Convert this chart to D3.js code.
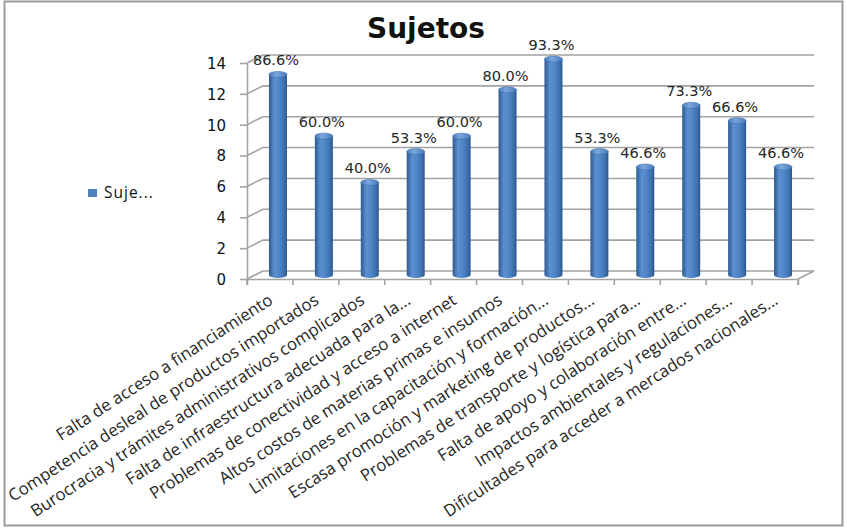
<!DOCTYPE html>
<html>
<head>
<meta charset="utf-8">
<script src="https://cdn.jsdelivr.net/npm/d3@7"></script>
<style>
  html, body { margin: 0; padding: 0; background: #fff; }
  svg { display: block; }
</style>
</head>
<body>
<svg id="chart" width="847" height="528"></svg>
<script>
const title = "Sujetos";
const seriesName = "Suje...";
const categories = [
  "Falta de acceso a financiamiento",
  "Competencia desleal de productos importados",
  "Burocracia y trámites administrativos complicados",
  "Falta de infraestructura adecuada para la...",
  "Problemas de conectividad y acceso a internet",
  "Altos costos de materias primas e insumos",
  "Limitaciones en la capacitación y formación...",
  "Escasa promoción y marketing de productos...",
  "Problemas de transporte y logística para...",
  "Falta de apoyo y colaboración entre...",
  "Impactos ambientales y regulaciones...",
  "Dificultades para acceder a mercados nacionales..."
];
const values = [13, 9, 6, 8, 9, 12, 14, 8, 7, 11, 10, 7];
const dataLabels = ["86.6%", "60.0%", "40.0%", "53.3%", "60.0%", "80.0%", "93.3%", "53.3%", "46.6%", "73.3%", "66.6%", "46.6%"];
const yTicks = [0, 2, 4, 6, 8, 10, 12, 14];

const svg = d3.select("#chart");

// frame
svg.append("rect").attr("x", 4.5).attr("y", 1.5).attr("width", 838).attr("height", 524)
  .attr("fill", "#fff").attr("stroke", "#9b9b9b").attr("stroke-width", 2);

// scales (front plane)
const x = d3.scaleBand().domain(categories).range([247, 798]).paddingInner(0).paddingOuter(0);
const y = d3.scaleLinear().domain([0, 14]).range([279, 63]);
const DX = 16, DY = -8;         // depth of the 3D box
const MX = DX / 2, MY = DY / 2; // bars sit at mid depth

const grid = svg.append("g");
yTicks.forEach(v => {
  const yy = y(v);
  grid.append("path")
    .attr("d", `M${x.range()[0]},${yy} L${x.range()[0] + DX},${yy + DY} L${x.range()[1] + DX},${yy + DY}`)
    .attr("fill", "none").attr("stroke", "#a3a3a3").attr("stroke-width", 1.6);
});
grid.append("path")
  .attr("d", `M${x.range()[1]},${y(0)} L${x.range()[1] + DX},${y(0) + DY}`)
  .attr("fill", "none").attr("stroke", "#a3a3a3").attr("stroke-width", 1.6);

// y axis
const yAxis = d3.axisLeft(y).tickValues(yTicks).tickSize(7).tickSizeOuter(0).tickPadding(14);
const gy = svg.append("g").attr("transform", `translate(${x.range()[0]},0)`).call(yAxis);
gy.select(".domain").attr("stroke", "#a3a3a3").attr("stroke-width", 1.6);
gy.selectAll(".tick line").attr("stroke", "#a3a3a3").attr("stroke-width", 1.6);
gy.selectAll(".tick text").attr("font-family", "DejaVu Sans").attr("font-size", 15)
  .attr("fill", "#111").attr("dy", "0.36em");

// x axis
const xAxis = d3.axisBottom(x).tickSize(6).tickSizeOuter(6).tickFormat("");
const gx = svg.append("g").attr("transform", `translate(0,${y(0)})`).call(xAxis);
gx.select(".domain").attr("stroke", "#a3a3a3").attr("stroke-width", 1.6);
gx.selectAll(".tick line").attr("stroke", "#a3a3a3").attr("stroke-width", 1.6)
  .attr("transform", `translate(${-x.bandwidth() / 2},0)`);
gx.append("line").attr("x1", x.range()[1]).attr("x2", x.range()[1]).attr("y1", 0).attr("y2", 6)
  .attr("stroke", "#a3a3a3").attr("stroke-width", 1.6);

// gradients
const defs = svg.append("defs");
const g1 = defs.append("linearGradient").attr("id", "cyl").attr("x1", 0).attr("x2", 1).attr("y1", 0).attr("y2", 0);
[[0, "#2d5a8f"], [0.3, "#5b8fd0"], [0.55, "#5087c8"], [0.85, "#3d6fae"], [1, "#2a5588"]]
  .forEach(([o, c]) => g1.append("stop").attr("offset", o).attr("stop-color", c));
const g2 = defs.append("linearGradient").attr("id", "cap").attr("x1", 0).attr("x2", 1).attr("y1", 0).attr("y2", 0);
[[0, "#4a7cbc"], [0.4, "#7aa6dc"], [1, "#4a7cbc"]]
  .forEach(([o, c]) => g2.append("stop").attr("offset", o).attr("stop-color", c));

const R = 9, RY = 3;
const bars = svg.append("g").selectAll("g").data(values).join("g");
bars.each(function (v, i) {
  const g = d3.select(this);
  const cx = x(categories[i]) + x.bandwidth() / 2 + MX;
  const yb = y(0) + MY, yt = y(v) + MY;
  g.append("ellipse").attr("cx", cx).attr("cy", yb).attr("rx", R).attr("ry", RY).attr("fill", "url(#cyl)");
  g.append("rect").attr("x", cx - R).attr("y", yt).attr("width", 2 * R).attr("height", yb - yt).attr("fill", "url(#cyl)");
  g.append("ellipse").attr("cx", cx).attr("cy", yt).attr("rx", R).attr("ry", RY)
    .attr("fill", "url(#cap)").attr("stroke", "#3f6ea8").attr("stroke-width", 0.6);
});

// data labels
svg.append("g").selectAll("text").data(values).join("text")
  .attr("x", (v, i) => x(categories[i]) + x.bandwidth() / 2 + MX - 2)
  .attr("y", v => y(v) + MY - 9)
  .attr("text-anchor", "middle")
  .attr("font-family", "DejaVu Sans").attr("font-size", 14.5).attr("fill", "#262626")
  .text((v, i) => dataLabels[i]);

// category labels
svg.append("g").selectAll("text").data(categories).join("text")
  .attr("transform", d => `translate(${x(d) + x.bandwidth() / 2 + 4},${y(0) + 24}) rotate(-33)`)
  .attr("text-anchor", "end")
  .attr("font-family", "Open Sans").attr("font-size", 16.8).attr("fill", "#262626")
  .text(d => d);

// title
svg.append("text").attr("x", 426).attr("y", 38).attr("text-anchor", "middle")
  .attr("font-family", "DejaVu Sans").attr("font-weight", "bold").attr("font-size", 28)
  .attr("fill", "#111").text(title);

// legend
svg.append("rect").attr("x", 88).attr("y", 189).attr("width", 9).attr("height", 8).attr("fill", "#4f81bd");
svg.append("text").attr("x", 104).attr("y", 198).attr("font-family", "Open Sans").attr("font-size", 15.5)
  .attr("letter-spacing", 1).attr("fill", "#111").text(seriesName);
</script>
</body>
</html>
